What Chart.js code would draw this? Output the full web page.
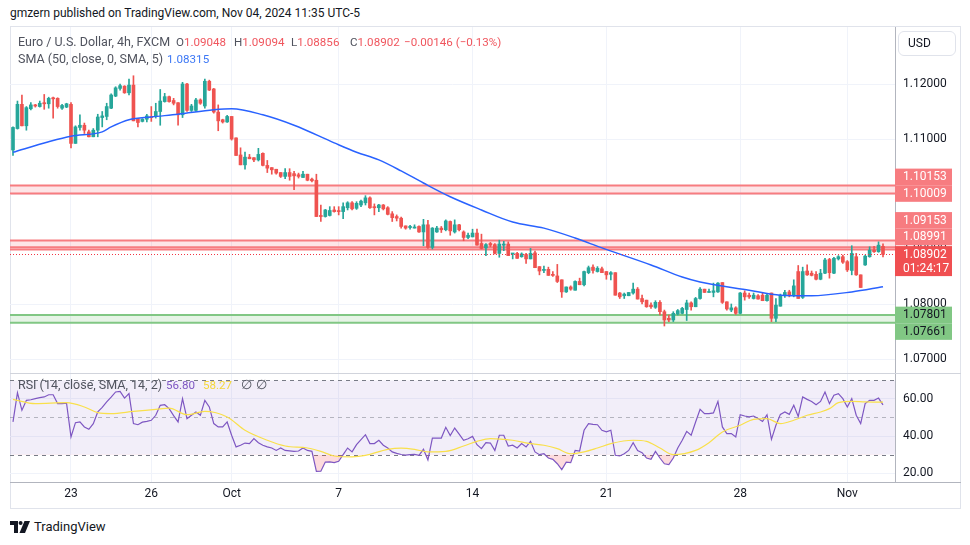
<!DOCTYPE html>
<html>
<head>
<meta charset="utf-8">
<script src="https://cdn.jsdelivr.net/npm/chart.js@4.4.1/dist/chart.umd.min.js"></script>
<style>
  body { margin: 0; background: #fff; width: 970px; height: 545px; overflow: hidden; position: relative; font-family: Roboto, sans-serif; color: #131722; }
  .abs { position: absolute; }
  #hdr { left: 10px; top: 6px; font-size: 12px; white-space: nowrap; }
  #frame { left: 10px; top: 26px; width: 951px; height: 483px; border: 1px solid #e0e3eb; box-sizing: border-box; }
  #main { left: 10px; top: 27px; }
  #rsi { left: 10px; top: 374px; }
  #sep { left: 10px; top: 373px; width: 951px; height: 1px; background: #d1d4dc; }
  #tline { left: 10px; top: 482px; width: 951px; height: 1px; background: #b2b5be; }
  .leg { font-size: 12.5px; white-space: nowrap; color: #50535e; z-index: 5; line-height: 16px; }
  .num { font-size: 11.6px; }
  .r { color: #f0565e; }
  #usd { left: 898px; top: 31px; width: 58px; height: 25px; border: 1px solid #e0e3eb; border-radius: 6px; box-sizing: border-box; font-size: 12px; line-height: 23px; padding-left: 9px; }
  #logo { left: 10px; top: 519px; font-size: 13px; display: flex; align-items: center; gap: 4px; }
</style>
</head>
<body>
<div id="hdr" class="abs">gmzern published on TradingView.com, Nov 04, 2024 11:35 UTC-5</div>
<div id="frame" class="abs"></div>
<canvas id="main" class="abs" width="951" height="346"></canvas>
<div id="sep" class="abs"></div>
<canvas id="rsi" class="abs" width="951" height="135"></canvas>
<div id="tline" class="abs"></div>
<div id="usd" class="abs">USD</div>

<div class="abs leg" style="left:18px;top:34px">Euro / U.S. Dollar, 4h, FXCM</div>
<div class="abs leg num" style="left:176px;top:34px">O<span class="r">1.09048</span></div>
<div class="abs leg num" style="left:234px;top:34px">H<span class="r">1.09094</span></div>
<div class="abs leg num" style="left:291px;top:34px">L<span class="r">1.08856</span></div>
<div class="abs leg num" style="left:350px;top:34px">C<span class="r">1.08902</span></div>
<div class="abs leg num r" style="left:404px;top:34px">−0.00146 (−0.13%)</div>
<div class="abs leg" style="left:18px;top:51px">SMA (50, close, 0, SMA, 5)</div>
<div class="abs leg num" style="left:167px;top:51px;color:#3d78f5">1.08315</div>
<div class="abs leg" style="left:18px;top:377px">RSI (14, close, SMA, 14, 2)</div>
<div class="abs leg num" style="left:166px;top:377px;color:#7e57c2">56.80</div>
<div class="abs leg num" style="left:203px;top:377px;color:#f5d73a">58.27</div>
<div class="abs leg" style="left:241px;top:377px">∅</div>
<div class="abs leg" style="left:256px;top:377px">∅</div>

<div id="logo" class="abs">
  <svg width="20" height="12" viewBox="0 0 20 12"><path d="M0 0h8v12H4V4H0z" fill="#131722"/><circle cx="10.6" cy="2" r="2" fill="#131722"/><path d="M14.5 0h5.5l-5 12h-5.5z" fill="#131722"/></svg>
  <span>TradingView</span>
</div>

<script>
// time axis
const tickIdx = [13, 31, 49, 73, 103, 133, 163, 187];
const tickLab = ['23', '26', 'Oct', '7', '14', '21', '28', 'Nov'];
const priceTicks = [1.07, 1.08, 1.09, 1.10, 1.11, 1.12];
const rsiTicks = [20, 40, 60];

// EURUSD 4h candles
const open = [
  1.1080,1.1119,1.1163,1.1124,1.1155,1.1162,1.1159,1.1166,1.1164,1.1175,
  1.1174,1.1156,1.1158,1.1163,1.1092,1.1121,1.1125,1.1113,1.1104,1.1116,
  1.1139,1.1141,1.1156,1.1178,1.1192,1.1196,1.1184,1.1198,1.1137,1.1132,
  1.1136,1.1141,1.1141,1.1150,1.1168,1.1177,1.1170,1.1166,1.1144,1.1200,
  1.1152,1.1152,1.1171,1.1160,1.1205,1.1191,1.1149,1.1135,1.1131,1.1141,
  1.1102,1.1071,1.1053,1.1067,1.1066,1.1062,1.1074,1.1052,1.1048,1.1045,
  1.1039,1.1032,1.1039,1.1037,1.1035,1.1030,1.1036,1.1027,1.1025,1.0961,
  1.0959,1.0961,1.0971,1.0969,1.0968,1.0975,1.0984,1.0974,1.0980,1.0984,
  1.0993,1.0977,1.0975,1.0980,1.0975,1.0964,1.0959,1.0956,1.0942,1.0939,
  1.0938,1.0941,1.0931,1.0944,1.0903,1.0931,1.0938,1.0935,1.0950,1.0931,
  1.0944,1.0931,1.0921,1.0922,1.0929,1.0910,1.0902,1.0910,1.0908,1.0892,
  1.0907,1.0909,1.0891,1.0892,1.0886,1.0890,1.0882,1.0893,1.0868,1.0861,
  1.0863,1.0854,1.0851,1.0844,1.0822,1.0831,1.0825,1.0841,1.0835,1.0857,
  1.0867,1.0859,1.0864,1.0859,1.0854,1.0857,1.0820,1.0815,1.0815,1.0820,
  1.0827,1.0810,1.0807,1.0798,1.0794,1.0803,1.0786,1.0774,1.0771,1.0782,
  1.0783,1.0790,1.0802,1.0795,1.0810,1.0827,1.0821,1.0821,1.0822,1.0839,
  1.0804,1.0789,1.0793,1.0783,1.0820,1.0816,1.0810,1.0815,1.0816,1.0806,
  1.0820,1.0774,1.0796,1.0815,1.0822,1.0815,1.0859,1.0812,1.0860,1.0856,
  1.0854,1.0845,1.0856,1.0881,1.0856,1.0882,1.0886,1.0877,1.0861,1.0886,
  1.0853,1.0871,1.0886,1.0898,1.0895,1.09048
];
const high = [
  1.1122,1.1169,1.1180,1.1159,1.1166,1.1163,1.1169,1.1181,1.1176,1.1176,
  1.1175,1.1163,1.1165,1.1166,1.1124,1.1144,1.1129,1.1116,1.1119,1.1145,
  1.1150,1.1165,1.1182,1.1195,1.1200,1.1197,1.1209,1.1215,1.1137,1.1137,
  1.1145,1.1159,1.1165,1.1190,1.1183,1.1178,1.1174,1.1166,1.1203,1.1201,
  1.1163,1.1174,1.1173,1.1209,1.1207,1.1192,1.1162,1.1136,1.1143,1.1141,
  1.1102,1.1084,1.1076,1.1072,1.1066,1.1083,1.1075,1.1061,1.1048,1.1045,
  1.1039,1.1046,1.1046,1.1041,1.1038,1.1041,1.1036,1.1029,1.1036,1.0980,
  1.0972,1.0977,1.0977,1.0977,1.0984,1.0986,1.0986,1.0986,1.0989,1.0997,
  1.0995,1.0982,1.0981,1.0981,1.0977,1.0968,1.0962,1.0958,1.0942,1.0943,
  1.0944,1.0942,1.0954,1.0952,1.0939,1.0941,1.0941,1.0953,1.0951,1.0953,
  1.0945,1.0933,1.0929,1.0936,1.0936,1.0927,1.0910,1.0912,1.0910,1.0916,
  1.0914,1.0913,1.0892,1.0894,1.0893,1.0892,1.0901,1.0896,1.0868,1.0869,
  1.0867,1.0859,1.0872,1.0844,1.0831,1.0833,1.0842,1.0847,1.0860,1.0869,
  1.0871,1.0868,1.0867,1.0859,1.0859,1.0857,1.0821,1.0820,1.0821,1.0838,
  1.0830,1.0816,1.0807,1.0802,1.0806,1.0806,1.0789,1.0780,1.0786,1.0790,
  1.0794,1.0807,1.0804,1.0812,1.0830,1.0827,1.0827,1.0838,1.0839,1.0839,
  1.0804,1.0800,1.0795,1.0821,1.0824,1.0820,1.0820,1.0817,1.0820,1.0818,
  1.0820,1.0810,1.0818,1.0825,1.0825,1.0844,1.0870,1.0867,1.0871,1.0860,
  1.0859,1.0863,1.0883,1.0883,1.0885,1.0888,1.0889,1.0879,1.0906,1.0892,
  1.0853,1.0889,1.0904,1.0905,1.0913,1.09094
];
const low = [
  1.1070,1.1118,1.1124,1.1116,1.1153,1.1158,1.1158,1.1154,1.1156,1.1138,
  1.1156,1.1154,1.1157,1.1084,1.1092,1.1116,1.1110,1.1104,1.1104,1.1104,
  1.1122,1.1135,1.1155,1.1177,1.1189,1.1183,1.1180,1.1133,1.1122,1.1131,
  1.1131,1.1132,1.1138,1.1125,1.1167,1.1167,1.1162,1.1125,1.1139,1.1150,
  1.1150,1.1150,1.1163,1.1156,1.1188,1.1147,1.1115,1.1129,1.1130,1.1098,
  1.1070,1.1053,1.1045,1.1064,1.1059,1.1060,1.1051,1.1039,1.1036,1.1036,
  1.1030,1.1028,1.1025,1.1008,1.1029,1.1030,1.1024,1.1022,1.0959,1.0950,
  1.0958,1.0960,1.0967,1.0962,1.0955,1.0971,1.0971,1.0972,1.0977,1.0980,
  1.0974,1.0962,1.0968,1.0971,1.0962,1.0950,1.0951,1.0938,1.0936,1.0936,
  1.0938,1.0930,1.0906,1.0901,1.0900,1.0930,1.0930,1.0933,1.0925,1.0929,
  1.0933,1.0915,1.0919,1.0922,1.0907,1.0900,1.0888,1.0904,1.0891,1.0885,
  1.0897,1.0888,1.0882,1.0883,1.0885,1.0874,1.0882,1.0866,1.0853,1.0857,
  1.0852,1.0850,1.0839,1.0812,1.0821,1.0825,1.0825,1.0835,1.0833,1.0855,
  1.0856,1.0858,1.0857,1.0845,1.0844,1.0816,1.0810,1.0810,1.0815,1.0818,
  1.0809,1.0800,1.0794,1.0792,1.0792,1.0780,1.0760,1.0768,1.0768,1.0780,
  1.0782,1.0770,1.0789,1.0795,1.0809,1.0821,1.0821,1.0813,1.0821,1.0801,
  1.0789,1.0786,1.0781,1.0782,1.0807,1.0810,1.0809,1.0809,1.0806,1.0805,
  1.0768,1.0768,1.0796,1.0812,1.0813,1.0813,1.0810,1.0810,1.0852,1.0851,
  1.0844,1.0844,1.0855,1.0847,1.0855,1.0880,1.0874,1.0859,1.0853,1.0852,
  1.0830,1.0870,1.0885,1.0894,1.0894,1.08856
];
const close = [
  1.1121,1.1163,1.1124,1.1157,1.1162,1.1160,1.1165,1.1164,1.1174,1.1173,
  1.1159,1.1161,1.1164,1.1092,1.1122,1.1125,1.1116,1.1104,1.1116,1.1140,
  1.1142,1.1159,1.1180,1.1193,1.1197,1.1184,1.1198,1.1133,1.1130,1.1136,
  1.1142,1.1139,1.1150,1.1169,1.1177,1.1168,1.1165,1.1144,1.1200,1.1152,
  1.1160,1.1171,1.1165,1.1205,1.1189,1.1149,1.1133,1.1131,1.1141,1.1100,
  1.1070,1.1053,1.1067,1.1064,1.1062,1.1072,1.1052,1.1047,1.1044,1.1038,
  1.1032,1.1039,1.1032,1.1033,1.1032,1.1036,1.1025,1.1024,1.0959,1.0959,
  1.0971,1.0970,1.0968,1.0968,1.0977,1.0984,1.0973,1.0983,1.0987,1.0993,
  1.0975,1.0975,1.0980,1.0973,1.0963,1.0957,1.0956,1.0941,1.0938,1.0941,
  1.0940,1.0931,1.0944,1.0903,1.0938,1.0938,1.0935,1.0951,1.0933,1.0944,
  1.0935,1.0921,1.0925,1.0929,1.0907,1.0901,1.0908,1.0907,1.0892,1.0909,
  1.0909,1.0888,1.0892,1.0883,1.0891,1.0882,1.0892,1.0866,1.0860,1.0863,
  1.0852,1.0852,1.0841,1.0822,1.0831,1.0827,1.0841,1.0835,1.0859,1.0866,
  1.0861,1.0865,1.0857,1.0853,1.0857,1.0816,1.0813,1.0818,1.0821,1.0827,
  1.0809,1.0804,1.0795,1.0795,1.0803,1.0786,1.0771,1.0771,1.0783,1.0788,
  1.0792,1.0802,1.0795,1.0810,1.0827,1.0821,1.0822,1.0824,1.0838,1.0803,
  1.0791,1.0793,1.0783,1.0820,1.0813,1.0813,1.0816,1.0809,1.0806,1.0816,
  1.0774,1.0798,1.0816,1.0821,1.0815,1.0833,1.0810,1.0859,1.0853,1.0852,
  1.0845,1.0856,1.0880,1.0857,1.0883,1.0886,1.0876,1.0862,1.0892,1.0853,
  1.0830,1.0887,1.0898,1.0895,1.0907,1.08902
];

// SMA 50 (read at a few candles)
const smaIdx = [0, 8, 13, 20, 22, 26, 31, 37, 45, 49, 56, 63, 72, 77, 82, 87, 92, 98, 105, 112, 119, 126, 132, 143, 150, 154, 165, 172, 179, 188, 195];
const smaVal = [1.1076, 1.1095, 1.1105, 1.1113, 1.1122, 1.1135, 1.1140, 1.1145, 1.1153, 1.1155, 1.1144, 1.1125, 1.1093, 1.1076, 1.1062, 1.1042, 1.1020, 1.0995, 1.0971, 1.0949, 1.0938, 1.0920, 1.0902, 1.0871, 1.0849, 1.0840, 1.0825, 1.0816, 1.0815, 1.0822, 1.08315];

// RSI 14
const rsi = [
  47.6,63.4,53.9,59.3,59.6,60.2,60.7,61.1,62.3,62.3,
  57.5,57.5,57.8,39.5,47.2,47.6,44.9,43.6,46.7,53.0,
  55.5,58.4,61.0,63.8,64.1,60.5,62.9,46.7,46.1,47.5,
  47.9,48.5,51.2,56.6,56.9,54.8,51.0,47.6,60.2,49.4,
  51.2,53.0,51.2,59.3,55.7,46.7,44.9,44.9,47.6,40.4,
  34.1,35.0,36.2,35.9,38.6,36.4,35.0,34.1,33.5,32.2,
  33.5,32.2,32.0,31.7,31.9,33.5,32.2,31.7,20.9,21.0,
  25.9,26.0,25.6,26.3,29.9,33.5,31.4,35.3,38.0,40.7,
  35.9,35.9,37.7,35.0,33.5,31.4,30.6,30.0,29.7,29.9,
  30.1,29.5,32.8,27.0,38.9,38.9,38.9,44.7,40.2,44.3,
  41.0,37.7,38.5,39.8,35.3,33.2,36.4,36.2,32.2,40.4,
  40.4,34.6,35.0,33.5,35.9,34.1,37.1,31.4,29.9,30.4,
  28.1,27.4,25.0,21.8,25.9,25.6,32.2,31.9,43.1,46.7,
  46.3,46.1,43.1,42.2,43.1,29.6,29.2,30.4,32.2,36.4,
  32.2,31.0,28.1,27.4,31.7,28.1,25.0,24.5,28.1,33.5,
  37.7,42.5,40.4,47.6,54.4,52.1,52.1,52.5,58.7,44.9,
  41.3,41.3,39.5,51.5,50.8,50.3,50.8,49.5,47.9,51.5,
  38.2,45.8,51.7,53.0,51.7,56.6,50.6,61.1,59.8,58.7,
  56.9,58.7,63.8,57.5,62.0,62.9,60.2,55.7,60.2,51.2,
  46.7,57.5,59.3,59.3,60.5,56.8
];
// SMA 14 of RSI (read at a few candles)
const rsiMaIdx = [0, 5, 12, 16, 19, 22, 27, 32, 35, 39, 43, 48, 52, 57, 61, 66, 69, 72, 76, 79, 84, 87, 90, 93, 97, 101, 104, 107, 112, 116, 119, 122, 125, 128, 131, 134, 139, 142, 145, 148, 153, 156, 159, 163, 166, 169, 172, 175, 178, 181, 183, 185, 188, 191, 195];
const rsiMaVal = [59.8, 57.5, 58.0, 55.7, 52.6, 52.1, 53.3, 54.4, 55.1, 51.5, 53.3, 50.3, 43.1, 37.7, 34.6, 33.5, 31.7, 29.2, 28.7, 29.5, 32.8, 33.5, 32.8, 31.4, 31.7, 34.6, 37.1, 38.6, 37.7, 35.9, 35.0, 33.2, 30.4, 31.4, 33.5, 35.9, 37.7, 37.1, 33.5, 29.9, 32.2, 36.4, 42.2, 45.8, 49.0, 49.4, 46.7, 48.5, 51.2, 53.0, 54.8, 58.0, 58.7, 58.4, 58.27];

// drawn zones (price levels)
const zoneHi = [1.10153, 1.09153, 1.07801];
const zoneLo = [1.10009, 1.08991, 1.07661];
const extraLevels = [1.0903];
const rsiBands = [70, 50, 30];
const countdown = '01:24:17';

const UP = '#26a69a', DOWN = '#ef5350';
const ZONE_RED = { fill: 'rgba(242,54,69,0.13)', line: '#f77c80', box: '#f77c80', text: '#ffffff' };
const ZONE_GREEN = { fill: 'rgba(76,175,80,0.14)', line: '#81c784', box: '#81c784', text: '#131722' };
const zoneStyle = [ZONE_RED, ZONE_RED, ZONE_GREEN];

Chart.defaults.font.family = 'Roboto, sans-serif';
Chart.defaults.font.size = 12;
Chart.defaults.color = '#131722';

const idx = close.map((_, i) => i);
const colors = idx.map(i => close[i] >= open[i] ? UP : DOWN);
const X_MIN = -0.672, X_MAX = 197.69;
const lastClose = close[close.length - 1];

function xScale(showLabels) {
  return {
    type: 'linear', min: X_MIN, max: X_MAX, offset: false, bounds: 'data',
    afterBuildTicks: s => { s.ticks = tickIdx.map(v => ({ value: v })); },
    ticks: { display: showLabels, autoSkip: false, maxRotation: 0, padding: 5, color: '#131722',
             callback: v => tickLab[tickIdx.indexOf(v)] },
    grid: { color: '#f0f3fa', drawTicks: false, offset: false },
    border: { display: showLabels, color: '#b2b5be' },
    afterFit: s => { s.height = showLabels ? 27 : 0; s.paddingLeft = 0; s.paddingRight = 0; }
  };
}

function yFit(s) { s.width = 66; s.paddingTop = 0; s.paddingBottom = 0; }

const zonesPlugin = {
  id: 'zones',
  beforeDatasetsDraw(chart) {
    const { ctx, chartArea: a, scales: { y } } = chart;
    ctx.save();
    zoneHi.forEach((hi, k) => {
      const st = zoneStyle[k];
      const t = y.getPixelForValue(hi), b = y.getPixelForValue(zoneLo[k]);
      ctx.fillStyle = st.fill;
      ctx.fillRect(a.left, t, a.right - a.left, b - t);
      ctx.strokeStyle = st.line;
      ctx.lineWidth = 2;
      [t, b].forEach(p => { ctx.beginPath(); ctx.moveTo(a.left, p); ctx.lineTo(a.right, p); ctx.stroke(); });
    });
    ctx.strokeStyle = ZONE_RED.line;
    extraLevels.forEach(v => {
      const p = y.getPixelForValue(v);
      ctx.beginPath(); ctx.moveTo(a.left, p); ctx.lineTo(a.right, p); ctx.stroke();
    });
    ctx.restore();
  },
  afterDatasetsDraw(chart) {
    const { ctx, chartArea: a, scales: { y } } = chart;
    const p = Math.round(y.getPixelForValue(lastClose)) + 0.5;
    ctx.save();
    ctx.strokeStyle = '#f23645';
    ctx.lineWidth = 1;
    ctx.setLineDash([1, 2]);
    ctx.beginPath(); ctx.moveTo(a.left, p); ctx.lineTo(a.right, p); ctx.stroke();
    ctx.restore();
  }
};

const priceLabelsPlugin = {
  id: 'priceLabels',
  afterDraw(chart) {
    const { ctx, scales: { y } } = chart;
    const x0 = y.left, w = 57, h = 16.6;
    const levels = [];
    zoneHi.forEach((v, k) => { levels.push({ v, st: zoneStyle[k] }); levels.push({ v: zoneLo[k], st: zoneStyle[k] }); });
    const cy = y.getPixelForValue(lastClose);
    const curTop = cy - 8.3, curH = 30;
    const placed = [];
    let lim = curTop - 0.8;
    levels.filter(l => l.v > lastClose).sort((a, b) => a.v - b.v).forEach(l => {
      const c = Math.min(y.getPixelForValue(l.v), lim - h / 2);
      placed.push({ ...l, c }); lim = c - h / 2;
    });
    lim = curTop + curH + 0.8;
    levels.filter(l => l.v < lastClose).sort((a, b) => b.v - a.v).forEach(l => {
      const c = Math.max(y.getPixelForValue(l.v), lim + h / 2);
      placed.push({ ...l, c }); lim = c + h / 2;
    });
    ctx.save();
    ctx.font = '12px Roboto, sans-serif';
    ctx.textBaseline = 'middle';
    placed.forEach(l => {
      ctx.fillStyle = l.st.box;
      ctx.fillRect(x0, l.c - h / 2, w, h);
      ctx.fillStyle = l.st.text;
      ctx.fillText(l.v.toFixed(5), x0 + 8, l.c + 0.5);
    });
    ctx.fillStyle = '#f04f51';
    ctx.fillRect(x0, curTop, w, curH);
    ctx.fillStyle = '#ffffff';
    ctx.fillText(lastClose.toFixed(5), x0 + 8, cy + 0.5);
    ctx.fillText(countdown, x0 + 8, cy + 14.5);
    ctx.restore();
  }
};

new Chart(document.getElementById('main'), {
  type: 'bar',
  data: {
    datasets: [
      { type: 'line', data: smaIdx.map((x, k) => ({ x, y: smaVal[k] })), borderColor: '#2962ff', borderWidth: 1.5,
        pointRadius: 0, tension: 0.4, cubicInterpolationMode: 'monotone', order: 0 },
      { data: idx.map(i => ({ x: i, y: [open[i], close[i]] })), backgroundColor: colors, grouped: false,
        barPercentage: 1, categoryPercentage: 1, maxBarThickness: 3, minBarLength: 1, order: 1 },
      { data: idx.map(i => ({ x: i, y: [low[i], high[i]] })), backgroundColor: colors, grouped: false,
        barPercentage: 1, categoryPercentage: 1, maxBarThickness: 1, order: 2 }
    ]
  },
  options: {
    responsive: false, animation: false, events: [],
    layout: { padding: 0 },
    plugins: { legend: { display: false }, tooltip: { enabled: false } },
    scales: {
      x: xScale(false),
      y: {
        position: 'right', min: 1.067455, max: 1.130364, beginAtZero: false, bounds: 'data',
        afterBuildTicks: s => { s.ticks = priceTicks.map(v => ({ value: v })); },
        ticks: { padding: 8, color: '#131722', callback: v => v.toFixed(5) },
        grid: { color: '#f0f3fa', drawTicks: false },
        border: { color: '#b2b5be' },
        afterFit: yFit
      }
    }
  },
  plugins: [zonesPlugin, priceLabelsPlugin]
});

const rsiBandPlugin = {
  id: 'rsiBand',
  beforeDatasetsDraw(chart) {
    const { ctx, chartArea: a, scales: { y } } = chart;
    const t = y.getPixelForValue(rsiBands[0]), b = y.getPixelForValue(rsiBands[2]);
    ctx.save();
    ctx.fillStyle = 'rgba(126,87,194,0.1)';
    ctx.fillRect(a.left, t, a.right - a.left, b - t);
    ctx.lineWidth = 1;
    ctx.setLineDash([4, 4]);
    rsiBands.forEach((v, k) => {
      const p = Math.round(y.getPixelForValue(v)) + 0.5;
      ctx.strokeStyle = k === 1 ? 'rgba(120,123,134,0.5)' : '#787b86';
      ctx.beginPath(); ctx.moveTo(a.left, p); ctx.lineTo(a.right, p); ctx.stroke();
    });
    ctx.restore();
  }
};

new Chart(document.getElementById('rsi'), {
  type: 'line',
  data: {
    datasets: [
      { data: rsiMaIdx.map((x, k) => ({ x, y: rsiMaVal[k] })), borderColor: '#f9e04b', borderWidth: 1.2,
        pointRadius: 0, tension: 0.4, cubicInterpolationMode: 'monotone', order: 0 },
      { data: rsi.map((v, i) => ({ x: i, y: v })), borderColor: '#7e57c2', borderWidth: 1.2, pointRadius: 0,
        tension: 0, order: 1,
        fill: { target: { value: rsiBands[2] }, above: 'rgba(0,0,0,0)', below: 'rgba(242,54,69,0.18)' } }
    ]
  },
  options: {
    responsive: false, animation: false, events: [],
    layout: { padding: 0 },
    plugins: { legend: { display: false }, tooltip: { enabled: false } },
    scales: {
      x: xScale(true),
      y: {
        position: 'right', min: 15.14, max: 73.51, bounds: 'data',
        afterBuildTicks: s => { s.ticks = rsiTicks.map(v => ({ value: v })); },
        ticks: { padding: 8, color: '#131722', callback: v => v.toFixed(2) },
        grid: { color: '#f0f3fa', drawTicks: false },
        border: { color: '#b2b5be' },
        afterFit: yFit
      }
    }
  },
  plugins: [rsiBandPlugin]
});
</script>
</body>
</html>
